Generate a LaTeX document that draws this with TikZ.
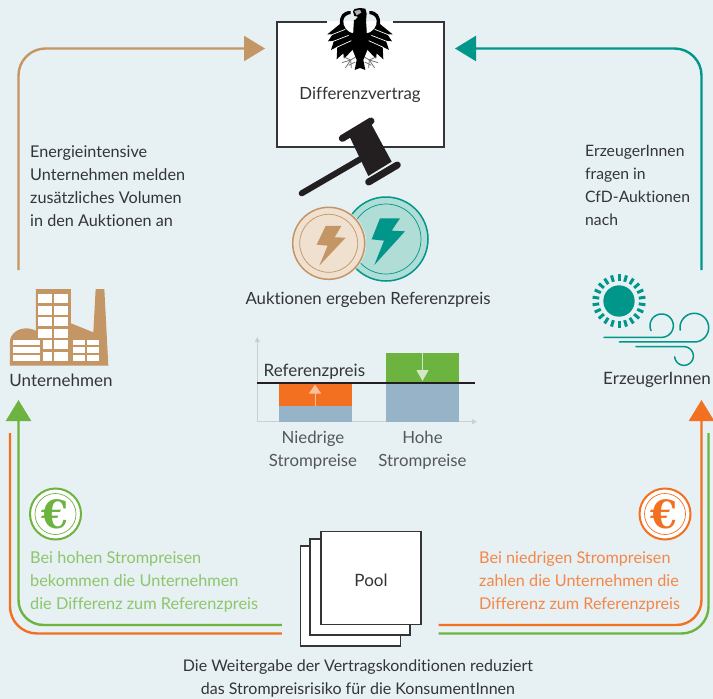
\documentclass[tikz,border=0pt]{standalone}
\usepackage{fontspec}
\setmainfont{Lato}[Ligatures=NoCommon]
\usetikzlibrary{arrows.meta,calc}
\definecolor{bgc}{HTML}{E7F0F2}
\definecolor{tanc}{HTML}{C49565}
\definecolor{tanl}{HTML}{EFE0CF}
\definecolor{tealc}{HTML}{00968A}
\definecolor{teall}{HTML}{B0DDD6}
\definecolor{orangec}{HTML}{F37021}
\definecolor{orangel}{HTML}{F4874A}
\definecolor{greenc}{HTML}{6CB33F}
\definecolor{greenl}{HTML}{8CC66D}
\definecolor{bluec}{HTML}{97B3C8}
\definecolor{axisc}{HTML}{C9CFD2}
\definecolor{inkc}{HTML}{333537}
\definecolor{graytxt}{HTML}{55585A}
\definecolor{blackc}{HTML}{231F20}
\tikzset{
  flow/.style={line width=2.4pt,rounded corners=27pt},
  tiparrow/.style={-{Triangle[length=21pt,width=25pt]}},
  sheet/.style={draw=inkc,fill=white,line width=1.1pt,minimum width=100pt,minimum height=93pt,inner sep=0pt},
  body/.style={font=\fontsize{16.8}{23}\selectfont,text=inkc,inner sep=0pt},
  labeltext/.style={font=\fontsize{17}{23}\selectfont,text=inkc,inner sep=0pt},
  leftblock/.style={body,anchor=north west,align=left},
  centerblock/.style={body,anchor=north,align=center},
  coinrim/.style={fill=white,line width=2pt},
  coinring/.style={line width=.7pt},
  euro/.style={font=\fontspec{DejaVu Serif}\bfseries\fontsize{39}{39}\selectfont,inner sep=0pt},
  win/.style={fill=white,draw=none},
  windline/.style={draw=tealc,line width=1.5pt,line cap=round},
  chartaxis/.style={draw=axisc,line width=.9pt,-{Triangle[length=5pt,width=5pt]}},
}
\begin{document}
\begin{tikzpicture}[x=1pt,y=-1pt]
\useasboundingbox (0,0) rectangle (713,699);
\fill[bgc] (0,0) rectangle (713,699);

% named anchors of free connector ends
\coordinate (tanstart) at (18.5,270);
\coordinate (tealstart) at (701.5,270);
\coordinate (tanentry) at (277,48.5);
\coordinate (tealentry) at (444,48.5);
\coordinate (greenleftend) at (18.5,400);
\coordinate (orangeleftend) at (10,433);
\coordinate (orangerightend) at (701.5,400);
\coordinate (greenrightend) at (708.5,433);

% contract box
\node[draw=inkc,fill=white,line width=1.1pt,minimum width=167pt,minimum height=125pt,inner sep=0pt] (contract) at (360.5,84.5) {};
\fill[white] (327,20.5) rectangle (393,23);
\fill[bgc] (327,16) rectangle (393,21.2);
\node[labeltext,font=\fontsize{16.8}{23}\selectfont] (contractlabel) at (360,95) {Differenzvertrag};

% eagle
\begin{scope}[shift={(260,0)},scale=0.3333]
  \foreach \s in {1,-1}{
  \begin{scope}[shift={(300,0)},xscale=\s]
    \fill[black] (-28,33) .. controls (-52,33) and (-62,48) .. (-60,72) -- (-98,103) -- (-82,103) -- (-96,124) -- (-78,122)
      -- (-87,150) -- (-68,140) -- (-70,178) -- (-50,160) -- (-48,176) -- (-18,145) -- (-18,100)
      .. controls (-40,98) and (-52,78) .. (-50,62) .. controls (-49,50) and (-40,44) .. (-28,42) -- cycle;
    \draw[white,line width=.7pt] (-44,88) -- (-84,104);
    \draw[white,line width=.7pt] (-34,106) -- (-80,124);
    \draw[white,line width=.7pt] (-26,122) -- (-70,142);
    \draw[black!55,line width=.8pt] (-8,168) -- (-28,180) -- (-50,170);
    \draw[black!55,line width=.8pt] (-28,180) -- (-54,188);
    \draw[black!55,line width=.8pt] (-28,180) -- (-44,204);
    \draw[black!55,line width=.8pt] (-28,180) -- (-26,204);
    \draw[black!55,line width=.8pt] (-14,186) -- (-34,196);
  \end{scope}}
  \fill[black] (282,60) -- (318,60) -- (320,90) -- (322,150) -- (310,180) -- (316,210) -- (300,204)
     -- (284,210) -- (290,180) -- (278,150) -- (280,90) -- cycle;
  \fill[black] (279,34) -- (284,27) -- (300,24) -- (316,26) -- (320,40) -- (318,62) -- (284,62) -- (294,50) -- (283,48) -- cycle;
  \fill[white!70!black] (283,33) -- (300,29) -- (304,38) -- (290,46) -- cycle;
\end{scope}

% gavel
\begin{scope}[shift={(280,110)},scale=0.3333]
  \draw[blackc,line width=6pt,line cap=round] (65,250) -- (240,148);
  \fill[blackc] (205,72) -- (270,35) -- (335,155) -- (265,198) -- cycle;
  \draw[blackc,line width=7pt,line cap=round] (187,85) -- (273,33);
  \draw[blackc,line width=7pt,line cap=round] (266,216) -- (352,165);
\end{scope}

% coins
\draw[tealc,fill=teall,line width=1.5pt] (386,239) circle (42);
\draw[tealc,line width=.7pt] (386,239) circle (35);
\draw[bgc,line width=.6pt] (328.7,243.3) circle (37.2);
\draw[tanc,fill=tanl,line width=1.5pt] (328.7,243.3) circle (36);
\draw[tanc,line width=.7pt] (328.7,243.3) circle (29);
\begin{scope}[shift={(280,110)},scale=0.3333]
  \fill[tealc] (300,325) -- (360,325) -- (335,362) -- (375,364) -- (283,465) -- (312,392) -- (275,388) -- cycle;
  \fill[tanc] (137,348) -- (184,348) -- (164,382) -- (197,383) -- (118,467) -- (143,407) -- (110,404) -- cycle;
\end{scope}
\node[body] (auktionen) at (368,300) {Auktionen ergeben Referenzpreis};

% top connectors
\draw[flow,tanc,tiparrow,shorten >=12pt] (tanstart) |- (tanentry);
\draw[flow,tealc,tiparrow,shorten >=11pt] (tealstart) |- (tealentry);

\node[leftblock,font=\fontsize{16.2}{23}\selectfont] (lefttext) at (30,145) {Energieintensive\\Unternehmen melden\\zusätzliches Volumen\\in den Auktionen an};
\node[leftblock,font=\fontsize{15.7}{23}\selectfont] (righttext) at (585,145) {ErzeugerInnen\\fragen in\\CfD-Auktionen\\nach};

% factory
\begin{scope}[shift={(0,270)},scale=0.3333]
  \fill[tanc] (287,57) -- (313,57) -- (325,287) -- (30,287) -- (30,215) arc[start angle=180,end angle=0,x radius=49,y radius=-40] -- (108,215) -- (108,57) -- (213,57) -- (213,160) -- (280,187) -- cycle;
  \foreach \a/\b in {72/100,107/135,141/169,177/205}{
    \fill[win] (114,\a) rectangle (157,\b);
    \fill[win] (162,\a) rectangle (205,\b);}
  \foreach \a/\b in {210/237,245/273}{
    \fill[win] (130,\a) rectangle (157,\b);
    \fill[win] (162,\a) rectangle (205,\b);}
  \foreach \a/\b in {210/226,232/248,254/272}{
    \fill[win] (38,\a) rectangle (120,\b);
    \fill[win] (219,\a) rectangle (256,\b);
    \fill[win] (261,\a) rectangle (298,\b);}
\end{scope}
\node[labeltext] (unternehmen) at (61,380) {Unternehmen};

% sun and wind
\begin{scope}[shift={(580,260)},scale=0.3333]
  \fill[tealc] (117,123) circle (47);
  \foreach \t in {0,...,21}{
    \draw[tealc,line width=3pt] ({117+60*cos(90+\t*360/22)},{123+60*sin(90+\t*360/22)}) -- ({117+80*cos(90+\t*360/22)},{123+80*sin(90+\t*360/22)});}
  \draw[windline] (72,232) -- (245,232) -- plot[domain=90:-205,samples=40,smooth] ({245+35*cos(\x)},{197+35*sin(\x)});
  \draw[windline] (118,246) -- (343,246) -- plot[domain=90:-190,samples=40,smooth] ({343+43*cos(\x)},{203+43*sin(\x)});
  \draw[windline] (168,260) -- (312,260) -- plot[domain=-90:175,samples=40,smooth] ({312+28*cos(\x)},{288+28*sin(\x)});
\end{scope}
\node[labeltext] (erzeuger) at (657,380) {ErzeugerInnen};

% price chart
\draw[chartaxis] (257.3,421.7) -- (257.3,337);
\draw[chartaxis] (257.3,421.7) -- (477,421.7);
\fill[bluec] (279,406) rectangle (352,421.7);
\fill[orangec] (279,383) rectangle (352,406);
\fill[bluec] (386,383) rectangle (459,421.7);
\fill[greenc] (386,353) rectangle (459,383);
\coordinate (lowbase) at (315,406);
\coordinate (lowtop) at (315,384.5);
\coordinate (highbase) at (422.5,353);
\coordinate (hightop) at (422.5,381);
\draw[orangec!45!white,line width=1pt,-{Triangle[length=9pt,width=12pt]}] (lowbase) -- (lowtop);
\draw[greenc!30!white,line width=1pt,-{Triangle[length=11pt,width=12pt]}] (highbase) -- (hightop);
\draw[blackc,line width=2pt] (256.7,383.3) -- (475,383.3);
\node[labeltext,anchor=base west] (refpreis) at (263.5,376) {Referenzpreis};
\node[centerblock,text=graytxt] (niedrig) at (313,430.5) {Niedrige\\Strompreise};
\node[centerblock,text=graytxt] (hoch) at (422.5,430.5) {Hohe\\Strompreise};

% pool
\node[sheet,minimum height=100pt] (poolback) at (350.5,596) {};
\node[sheet,minimum height=96pt] (poolmid) at (360,587) {};
\node[sheet] (pool) at (371,578.3) {};
\node[labeltext] (poollabel) at (371,580) {Pool};

% lower connectors
\draw[flow,greenc,tiparrow,rounded corners=25pt,shorten <=18pt] (poolback.west |- 0,625) -| (greenleftend);
\draw[flow,orangec,shorten <=18pt] (poolback.west |- 0,633.5) -| (orangeleftend);
\draw[flow,orangec,tiparrow,rounded corners=25pt,shorten <=17pt] (pool.east |- 0,625) -| (orangerightend);
\draw[flow,greenc,shorten <=17pt] (pool.east |- 0,633.5) -| (greenrightend);

% euro coins
\draw[greenc,coinrim] (55.5,514) circle (25.5);
\draw[greenc,coinring] (55.5,514) circle (20.5);
\node[euro,text=greenc] (greeneuro) at (55,514) {€};
\draw[orangec,coinrim] (665,514) circle (25.5);
\draw[orangec,coinring] (665,514) circle (20.5);
\node[euro,text=orangec] (orangeeuro) at (664.5,514) {€};

\node[leftblock,text=greenl,font=\fontsize{16.3}{23}\selectfont] (greentext) at (30,551) {Bei hohen Strompreisen\\bekommen die Unternehmen\\die Differenz zum Referenzpreis};
\node[leftblock,text=orangel,font=\fontsize{16.2}{23}\selectfont] (orangetext) at (479,551) {Bei niedrigen Strompreisen\\zahlen die Unternehmen die\\Differenz zum Referenzpreis};
\node[centerblock,font=\fontsize{16}{23.5}\selectfont] (bottomtext) at (358,659.5) {Die Weitergabe der Vertragskonditionen reduziert\\das Strompreisrisiko für die KonsumentInnen};
\end{tikzpicture}
\end{document}
